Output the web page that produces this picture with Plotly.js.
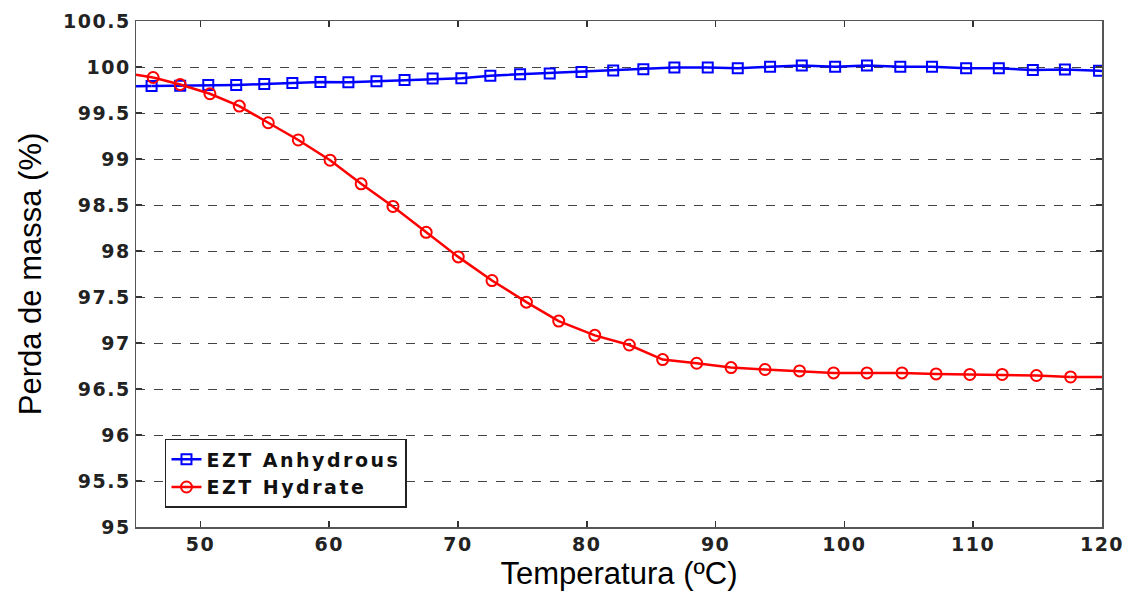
<!DOCTYPE html>
<html>
<head>
<meta charset="utf-8">
<script src="https://cdn.plot.ly/plotly-3.0.1.min.js"></script>
<style>
  html, body { margin: 0; padding: 0; background: #fff; }
  #chart { width: 1133px; height: 594px; }
  .xtick text, .ytick text { letter-spacing: 1.5px; }
  .legendtext { letter-spacing: 2.5px; }
</style>
</head>
<body>
<div id="chart"></div>
<script>
// ---- Data ----
const seriesNames = ["EZT Anhydrous", "EZT Hydrate"];

const tempAnhydrous = [46.21, 48.43, 50.61, 52.78, 54.96, 57.14, 59.32, 61.49, 63.67, 65.85,
  68.03, 70.26, 72.51, 74.82, 77.12, 79.59, 82.05, 84.39, 86.80, 89.39,
  91.72, 94.23, 96.69, 99.28, 101.75, 104.34, 106.80, 109.45, 111.99, 114.63,
  117.12, 119.77];
const massAnhydrous = [99.794, 99.796, 99.805, 99.805, 99.814, 99.827, 99.837, 99.835, 99.846, 99.859,
  99.875, 99.879, 99.906, 99.921, 99.930, 99.946, 99.962, 99.975, 99.995, 99.995,
  99.987, 100.002, 100.016, 100.002, 100.016, 100.002, 100.002, 99.987, 99.987, 99.967,
  99.973, 99.959];

const tempHydrate = [46.33, 48.43, 50.74, 53.02, 55.27, 57.60, 60.07, 62.48, 64.95, 67.53,
  70.02, 72.64, 75.31, 77.82, 80.62, 83.30, 85.89, 88.53, 91.20, 93.84,
  96.52, 99.16, 101.75, 104.47, 107.12, 109.74, 112.25, 114.91, 117.56];
const massHydrate = [99.886, 99.810, 99.709, 99.575, 99.394, 99.207, 98.987, 98.730, 98.484, 98.203,
  97.936, 97.679, 97.444, 97.238, 97.083, 96.978, 96.820, 96.780, 96.733, 96.712,
  96.697, 96.675, 96.675, 96.675, 96.664, 96.658, 96.658, 96.647, 96.631];

// line continues (without markers) to the plot edges
const edgeTemps = [45, 120];
const anhydrousEdgeMass = [99.792, 99.957];
const hydrateEdgeMass = [99.915, 96.630];

const xTicks = [50, 60, 70, 80, 90, 100, 110, 120];
const yTicks = [95, 95.5, 96, 96.5, 97, 97.5, 98, 98.5, 99, 99.5, 100, 100.5];

const BLUE = "#0000ff", RED = "#ff0000";

function edgeTrace(xa, ya, color) {
  return { x: xa, y: ya, type: "scatter", mode: "lines", showlegend: false,
           hoverinfo: "skip", line: { color: color, width: 2.5 } };
}

const traces = [
  edgeTrace([edgeTemps[0], tempAnhydrous[0]], [anhydrousEdgeMass[0], massAnhydrous[0]], BLUE),
  edgeTrace([tempAnhydrous[tempAnhydrous.length - 1], edgeTemps[1]], [massAnhydrous[massAnhydrous.length - 1], anhydrousEdgeMass[1]], BLUE),
  edgeTrace([edgeTemps[0], tempHydrate[0]], [hydrateEdgeMass[0], massHydrate[0]], RED),
  edgeTrace([tempHydrate[tempHydrate.length - 1], edgeTemps[1]], [massHydrate[massHydrate.length - 1], hydrateEdgeMass[1]], RED),
  {
    x: tempAnhydrous, y: massAnhydrous, name: seriesNames[0],
    type: "scatter", mode: "lines+markers",
    line: { color: BLUE, width: 2.5 },
    marker: { symbol: "square-open", size: 10, color: BLUE, line: { width: 2, color: BLUE } }
  },
  {
    x: tempHydrate, y: massHydrate, name: seriesNames[1],
    type: "scatter", mode: "lines+markers",
    line: { color: RED, width: 2.5 },
    marker: { symbol: "circle-open", size: 11, color: RED, line: { width: 2, color: RED } }
  }
];

const layout = {
  width: 1133, height: 594,
  margin: { l: 136, r: 31, t: 21, b: 67 },
  paper_bgcolor: "#fff", plot_bgcolor: "#fff",
  showlegend: true,
  legend: {
    x: 0.03, y: 0.174, xanchor: "left", yanchor: "top",
    bgcolor: "#fff", bordercolor: "#222", borderwidth: 1.5,
    font: { family: "DejaVu Sans", size: 19, color: "#111", weight: "bold" },
    tracegroupgap: 0
  },
  xaxis: {
    range: [45, 120], tickvals: xTicks, ticktext: xTicks.map(String),
    ticks: "inside", ticklen: 6, tickwidth: 1.5, tickcolor: "#333",
    showline: true, linecolor: "#555", linewidth: 1.5, mirror: "ticks",
    showgrid: false, zeroline: false,
    tickfont: { family: "DejaVu Sans", size: 19, color: "#222", weight: "bold" },
    title: { text: "Temperatura (ºC)", standoff: 8,
             font: { family: "Liberation Sans, Arial, sans-serif", size: 31, color: "#000" } }
  },
  yaxis: {
    range: [95, 100.5], tickvals: yTicks, ticktext: yTicks.map(v => String(v)),
    ticks: "inside", ticklen: 6, tickwidth: 1.5, tickcolor: "#333",
    showline: true, linecolor: "#555", linewidth: 1.5, mirror: "ticks",
    showgrid: true, gridcolor: "#444", gridwidth: 1, griddash: "dash",
    zeroline: false,
    tickfont: { family: "DejaVu Sans", size: 19, color: "#222", weight: "bold" },
    title: { text: "Perda de massa (%)", standoff: 12,
             font: { family: "Liberation Sans, Arial, sans-serif", size: 31, color: "#000" } }
  }
};

Plotly.newPlot("chart", traces, layout, { displayModeBar: false, staticPlot: true });
</script>
</body>
</html>
